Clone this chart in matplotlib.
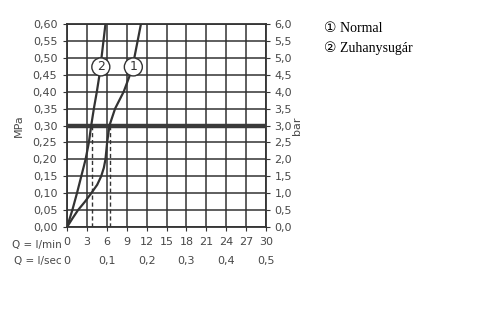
import matplotlib.pyplot as plt
import numpy as np

# flow (l/min) vs pressure (MPa)
q_normal = [0, 0.8, 1.65, 2.7, 3.65, 4.55, 5.15, 5.55, 5.8, 6.05, 6.4, 7.25, 8.55, 9.5, 10.15, 10.65, 11.15]
p_normal = [0, 0.025, 0.05, 0.075, 0.10, 0.125, 0.15, 0.175, 0.20, 0.25, 0.30, 0.35, 0.40, 0.45, 0.50, 0.55, 0.60]
q_shower = [0, 0.8, 1.5, 2.15, 2.8, 3.3, 3.65, 4.05, 4.5, 4.9, 5.5, 5.8]
p_shower = [0, 0.05, 0.10, 0.15, 0.20, 0.25, 0.30, 0.35, 0.40, 0.45, 0.55, 0.60]

x_ticks = [0, 3, 6, 9, 12, 15, 18, 21, 24, 27, 30]
sec_ticks = [0, 6, 12, 18, 24, 30]
sec_labels = ["0", "0,1", "0,2", "0,3", "0,4", "0,5"]
y_ticks = np.arange(0, 0.601, 0.05)
legend = ["\u2460 Normal", "\u2461 Zuhanysug\u00e1r"]

dark = "#333333"
fig = plt.figure(figsize=(5, 3.19), dpi=100)
ax = fig.add_axes([0.134, 0.288, 0.398, 0.637])
ax.set_xlim(0, 30)
ax.set_ylim(0, 0.6)

for x in x_ticks:
    ax.axvline(x, color=dark, lw=1.1, zorder=1)
for y in y_ticks:
    ax.axhline(y, color=dark, lw=1.1, zorder=1)
for s in ax.spines.values():
    s.set_color(dark)
    s.set_linewidth(1.3)

ax.axhline(0.30, color="#3a3a3a", lw=3.2, zorder=3)
ax.plot(q_normal, p_normal, color=dark, lw=1.6, zorder=4, solid_joinstyle="round")
ax.plot(q_shower, p_shower, color=dark, lw=1.6, zorder=4, solid_joinstyle="round")

# dashed drops at 0.3 MPa
for q in (np.interp(0.30, p_shower, q_shower), np.interp(0.30, p_normal, q_normal)):
    ax.plot([q + 0.1, q + 0.1], [0, 0.30], color=dark, lw=1, ls=(0, (3, 2)), zorder=4)

# circled curve labels
for txt, q in (("2", 5.1), ("1", 10.0)):
    ax.text(q, 0.473, txt, ha="center", va="center", fontsize=9, color=dark, zorder=6,
            bbox=dict(boxstyle="circle,pad=0.2", fc="white", ec=dark, lw=1))

tick_font = dict(fontsize=8, color="#484848")
ax.set_xticks(x_ticks)
ax.set_xticklabels([str(v) for v in x_ticks], **tick_font)
ax.set_yticks(y_ticks)
ax.set_yticklabels([f"{v:.2f}".replace(".", ",") for v in y_ticks], **tick_font)
ax.tick_params(direction="out", length=3, color=dark, pad=4)

ax2 = ax.twinx()
ax2.set_ylim(0, 6)
ax2.set_yticks(np.arange(0, 6.01, 0.5))
ax2.set_yticklabels([f"{v:.1f}".replace(".", ",") for v in np.arange(0, 6.01, 0.5)], **tick_font)
ax2.tick_params(direction="out", length=3, color=dark, pad=3)
for s in ax2.spines.values():
    s.set_visible(False)

ax.set_ylabel("MPa", fontsize=8, color="#484848", labelpad=6)
ax2.set_ylabel("bar", fontsize=8, color="#484848", rotation=90, labelpad=0)

# second x row (l/sec)
for q, lab in zip(sec_ticks, sec_labels):
    ax.text(q, -0.1, lab, ha="center", va="center", **tick_font)
ax.text(-0.8, -0.052, "Q = l/min", ha="right", va="center", fontsize=7.5, color="#484848")
ax.text(-0.8, -0.1, "Q = l/sec", ha="right", va="center", fontsize=7.5, color="#484848")

fig.text(0.648, 0.912, legend[0], fontsize=10, family=["Liberation Serif", "DejaVu Sans"], va="center")
fig.text(0.648, 0.850, legend[1], fontsize=10, family=["Liberation Serif", "DejaVu Sans"], va="center")

fig.savefig("out.png", dpi=100)
